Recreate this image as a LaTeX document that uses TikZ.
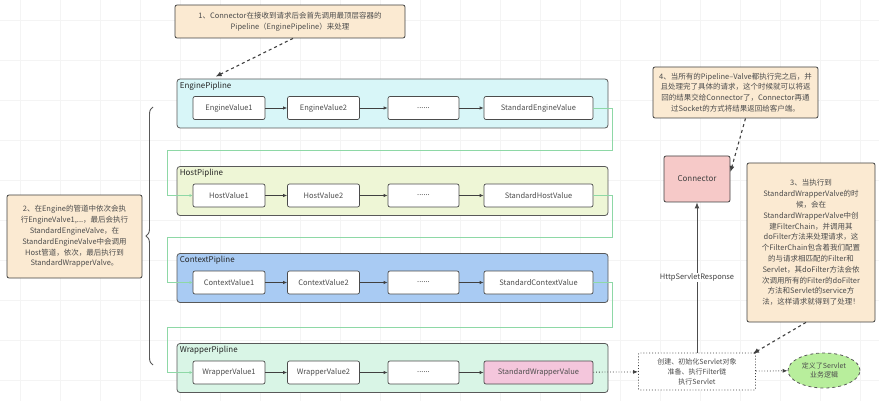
\documentclass[tikz,border=0pt]{standalone}
\usepackage{fontspec}
\setmainfont{Noto Sans CJK SC}
\usetikzlibrary{arrows.meta,calc,shapes.geometric,decorations.pathreplacing}

\definecolor{notefill}{HTML}{FBEAD2}
\definecolor{cengine}{HTML}{D8F6F8}
\definecolor{chost}{HTML}{EEF6D6}
\definecolor{ccontext}{HTML}{A9CBF3}
\definecolor{cwrapper}{HTML}{D9F5E6}
\definecolor{flowgreen}{HTML}{8ED8A6}
\definecolor{connfill}{HTML}{F6C9C8}
\definecolor{pinkfill}{HTML}{F4C6DC}
\definecolor{bizfill}{HTML}{B8EE9C}

\tikzset{
 note/.style={draw=black!75,line width=.8pt,rounded corners=2pt,fill=notefill,align=center,text=black!70,inner sep=2pt,font=\fontsize{7.5}{10.8}\selectfont},
 pipe/.style={draw=black!65,line width=.8pt,rounded corners=3pt,minimum width=431pt,minimum height=49pt},
 valbox/.style={draw=black!70,line width=.7pt,rounded corners=2pt,minimum height=23pt,text=black!70,font=\fontsize{7.5}{9}\selectfont},
 arr/.style={-{Latex[length=4pt,width=3.5pt]},black!75,line width=.7pt},
 flow/.style={flowgreen,line width=.7pt,-{Latex[length=3pt,width=3pt]}},
 hint/.style={dashed,line width=1.1pt,black!75,-{Latex[length=6pt,width=5pt]}},
 dots/.style={dotted,line width=.8pt,black!75,-{Latex[length=5pt,width=4pt]}}
}

\begin{document}
\begin{tikzpicture}[x=1pt,y=-1pt]
 \useasboundingbox (0,0) rectangle (879,401);
 \foreach \i in {20,60,...,879} \draw[gray!9] (\i,0) -- (\i,401);
 \foreach \i in {20,60,...,401} \draw[gray!9] (0,\i) -- (879,\i);

 \foreach \n/\y/\c/\s in {Engine/108/cengine/white,Host/195.5/chost/white,Context/282.5/ccontext/white,Wrapper/372.5/cwrapper/pinkfill}{
  \node[pipe,fill=\c] (p\n) at (392.5,\y-4.5) {};
  \node[anchor=north west,inner sep=3pt,font=\fontsize{8}{9}\selectfont,text=black!85] (l\n) at (p\n.north west) {\n Pipline};
  \node[valbox,fill=white,minimum width=72pt] (\n1) at (229,\y) {\n Value1};
  \node[valbox,fill=white,minimum width=72pt] (\n2) at (323.5,\y) {\n Value2};
  \node[valbox,fill=white,minimum width=71pt] (\n3) at (423.5,\y) {......};
  \node[valbox,fill=\s,minimum width=109pt] (\n4) at (538.5,\y) {Standard\n Value};
  \draw[arr] (\n1) -- (\n2);
  \draw[arr] (\n2) -- (\n3);
  \draw[arr] (\n3) -- (\n4);
 }
 \foreach \a/\b in {Engine/Host,Host/Context,Context/Wrapper}
  \draw[flow] (\a4.east) -- ++(19,0) |- ($(\b1.west)+(-25,-45)$) |- (\b1.west);

 \node[note,minimum width=230pt,minimum height=33pt] (n1) at (290,21.5)
  {1、Connector在接收到请求后会首先调用最顶层容器的\\Pipeline（EnginePipeline）来处理};
 \node[note,minimum width=135pt,minimum height=83pt] (n2) at (74.5,236.5)
  {2、在Engine的管道中依次会执\\行EngineValve1,...，最后会执行\\StandardEngineValve，在\\StandardEngineValve中会调用\\Host管道，依次，最后执行到\\StandardWrapperValve。};
 \node[note,minimum width=128pt,minimum height=159pt] (n3) at (811,242.5)
  {3、当执行到\\StandardWrapperValve的时\\候，会在\\StandardWrapperValve中创\\建FilterChain，并调用其\\doFilter方法来处理请求，这\\个FilterChain包含着我们配置\\的与请求相匹配的Filter和\\Servlet，其doFilter方法会依\\次调用所有的Filter的doFilter\\方法和Servlet的service方\\法，这样请求就得到了处理！};
 \node[note,minimum width=165pt,minimum height=51pt] (n4) at (735.5,92.5)
  {4、当所有的Pipeline–Valve都执行完之后，并\\且处理完了具体的请求，这个时候就可以将返\\回的结果交给Connector了，Connector再通\\过Socket的方式将结果返回给客户端。};

 \node[draw=black!75,line width=.8pt,rounded corners=2pt,fill=connfill,minimum width=66pt,minimum height=46pt,text=black!75,font=\fontsize{8}{9}\selectfont] (conn) at (697,179) {Connector};
 \node[draw=black!75,dotted,line width=.9pt,rounded corners=1pt,fill=white,minimum width=117pt,minimum height=37pt,align=center,text=black!70,font=\fontsize{7}{10}\selectfont] (srv) at (697,371.5) {创建、初始化Servlet对象\\准备、执行Filter链\\执行Servlet};
 \node[ellipse,draw=black!65,dashed,line width=.8pt,fill=bizfill,minimum width=72pt,minimum height=35pt,inner sep=0pt,align=center,text=black!70,font=\fontsize{7}{9}\selectfont] (biz) at (824,370.5) {定义了Servlet\\业务逻辑};

 \draw[dots] (Wrapper4) -- (srv);
 \draw[dots] (srv) -- (biz);
 \draw[line width=.9pt,black!70,-{Latex[length=6pt,width=5pt]}] (srv) -- node[fill=white,inner sep=1pt,text=black!75,font=\fontsize{7.5}{9}\selectfont] (resp) {HttpServletResponse} (conn);

 \draw[hint] ([xshift=3pt]n1.south) -- ([xshift=39pt,yshift=2pt]pEngine.north west);
 \draw[hint] ([xshift=10pt]n4.south) -- ([yshift=7pt]conn.east);
 \draw[hint] ([xshift=-5pt]n3.south) -- ([xshift=-3pt,yshift=-1pt]srv.north east);

 \draw[decorate,decoration={brace,amplitude=7pt},black!65,line width=.9pt] (153,365) -- (153,107);
\end{tikzpicture}
\end{document}
